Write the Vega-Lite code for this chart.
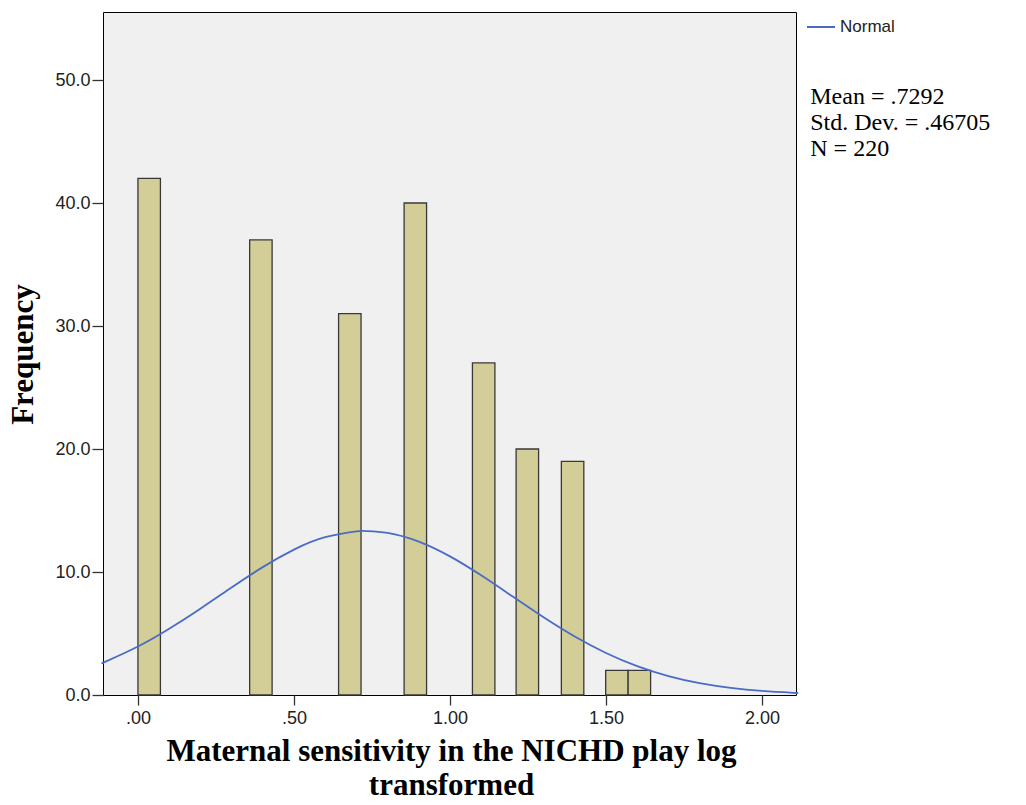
{
  "$schema": "https://vega.github.io/schema/vega-lite/v6.json",
  "width": 693,
  "height": 683,
  "autosize": "none",
  "padding": {"left": 103, "top": 12, "right": 230, "bottom": 110},
  "background": "#ffffff",
  "config": {
    "view": {"stroke": "#000000", "strokeWidth": 1, "fill": "#f0f0f0"},
    "axis": {
      "grid": false,
      "domain": false,
      "labelFont": "Liberation Sans",
      "labelFontSize": 18,
      "labelColor": "#222222",
      "tickColor": "#333333",
      "tickWidth": 1.3,
      "titleFont": "Liberation Serif",
      "titleFontWeight": "bold",
      "titleColor": "#000000"
    }
  },
  "datasets": {
    "bars": [
      {"start": 0.000, "end": 0.072, "count": 42},
      {"start": 0.358, "end": 0.430, "count": 37},
      {"start": 0.643, "end": 0.715, "count": 31},
      {"start": 0.853, "end": 0.925, "count": 40},
      {"start": 1.072, "end": 1.144, "count": 27},
      {"start": 1.212, "end": 1.284, "count": 20},
      {"start": 1.357, "end": 1.429, "count": 19},
      {"start": 1.499, "end": 1.571, "count": 2},
      {"start": 1.571, "end": 1.643, "count": 2}
    ],
    "curve": [
      {"x": -0.112, "y": 2.633},
      {"x": -0.1, "y": 2.757},
      {"x": 0.0, "y": 3.940},
      {"x": 0.1, "y": 5.380},
      {"x": 0.2, "y": 7.015},
      {"x": 0.3, "y": 8.739},
      {"x": 0.4, "y": 10.398},
      {"x": 0.5, "y": 11.818},
      {"x": 0.6, "y": 12.830},
      {"x": 0.7, "y": 13.304},
      {"x": 0.7292, "y": 13.330},
      {"x": 0.8, "y": 13.178},
      {"x": 0.9, "y": 12.468},
      {"x": 1.0, "y": 11.268},
      {"x": 1.1, "y": 9.727},
      {"x": 1.2, "y": 8.020},
      {"x": 1.3, "y": 6.317},
      {"x": 1.4, "y": 4.752},
      {"x": 1.5, "y": 3.415},
      {"x": 1.6, "y": 2.344},
      {"x": 1.7, "y": 1.537},
      {"x": 1.8, "y": 0.963},
      {"x": 1.9, "y": 0.576},
      {"x": 2.0, "y": 0.329},
      {"x": 2.1, "y": 0.180},
      {"x": 2.109, "y": 0.170}
    ],
    "note": [{"id": 1}]
  },
  "layer": [
    {
      "data": {"name": "bars"},
      "mark": {"type": "rect", "fill": "#d3ce97", "stroke": "#383838", "strokeWidth": 1.3},
      "encoding": {
        "x": {
          "field": "start", "type": "quantitative",
          "scale": {"domain": [-0.112, 2.109], "nice": false, "zero": false},
          "axis": {
            "values": [0, 0.5, 1, 1.5, 2],
            "labelExpr": "datum.value < 1 ? '.' + substring(format(datum.value, '.2f'), 2) : format(datum.value, '.2f')",
            "tickSize": 10,
            "labelPadding": 4,
            "title": ["Maternal sensitivity in the NICHD play log", "transformed"],
            "titleFontSize": 31,
            "titleLineHeight": 34,
            "titleBaseline": "alphabetic",
            "titleX": 348,
            "titleY": 65
          }
        },
        "x2": {"field": "end"},
        "y": {
          "field": "count", "type": "quantitative",
          "scale": {"domain": [0, 55.53], "nice": false, "zero": true},
          "axis": {
            "values": [0, 10, 20, 30, 40, 50],
            "format": ".1f",
            "tickSize": 11,
            "labelPadding": 2,
            "title": "Frequency",
            "titleFontSize": 31,
            "titleBaseline": "alphabetic",
            "titleX": -71,
            "titleY": 342
          }
        },
        "y2": {"datum": 0}
      }
    },
    {
      "data": {"name": "curve"},
      "mark": {"type": "line", "strokeWidth": 1.8, "interpolate": "natural"},
      "encoding": {
        "x": {"field": "x", "type": "quantitative"},
        "y": {"field": "y", "type": "quantitative"},
        "color": {
          "datum": "Normal",
          "type": "nominal",
          "scale": {"range": ["#4a6cc6"]},
          "legend": {
            "title": null,
            "orient": "none",
            "legendX": 703,
            "legendY": 0,
            "padding": 0,
            "symbolType": "stroke",
            "symbolSize": 784,
            "symbolStrokeWidth": 2,
            "labelFont": "Liberation Sans",
            "labelFontSize": 17,
            "labelColor": "#222222",
            "labelOffset": 4
          }
        }
      }
    },
    {
      "data": {"name": "note"},
      "mark": {
        "type": "text",
        "text": ["Mean = .7292", "Std. Dev. = .46705", "N = 220"],
        "font": "Liberation Serif",
        "fontSize": 24,
        "lineHeight": 26,
        "align": "left",
        "baseline": "alphabetic",
        "color": "#000000",
        "clip": false
      },
      "encoding": {
        "x": {"datum": 2.1547, "type": "quantitative"},
        "y": {"datum": 48.05, "type": "quantitative"}
      }
    }
  ]
}
